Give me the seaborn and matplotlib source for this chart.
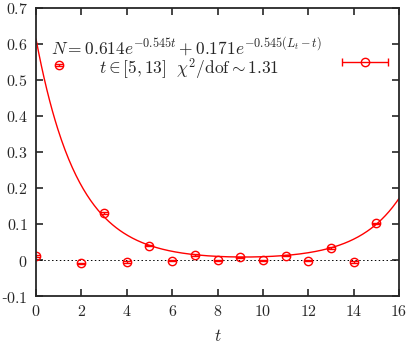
import numpy as np
import pandas as pd
import seaborn as sns
import matplotlib.pyplot as plt

# measured points
t_vals = [0, 1, 2, 3, 4, 5, 6, 7, 8, 9, 10, 11, 12, 13, 14, 15]
n_vals = [0.011, 0.542, -0.009, 0.131, -0.005, 0.040, -0.002, 0.014,
          -0.001, 0.007, -0.001, 0.012, -0.002, 0.033, -0.005, 0.102]
n_err = [0.002] * 16

# fit parameters (as printed on the chart)
amp1, amp2, mass, L_t = 0.614, 0.171, 0.545, 16

x_ticks = [0, 2, 4, 6, 8, 10, 12, 14, 16]
y_ticks = [-0.1, 0, 0.1, 0.2, 0.3, 0.4, 0.5, 0.6, 0.7]


def fmt_tick(v):
    s = f"{v:g}"
    if s.startswith("-"):
        return "-$" + s[1:] + "$"
    return "$" + s + "$"


def main():
    sns.set_style("ticks")
    plt.rcParams["font.family"] = ["DejaVu Serif"]
    plt.rcParams["mathtext.fontset"] = "cm"

    fig = plt.figure(figsize=(4.09, 3.45), dpi=100)
    ax = fig.add_axes([0.088, 0.142, 0.8876, 0.835])

    tt = np.linspace(0, L_t, 400)
    fit = pd.DataFrame({"t": tt,
                        "N": amp1 * np.exp(-mass * tt) + amp2 * np.exp(-mass * (L_t - tt))})
    sns.lineplot(data=fit, x="t", y="N", color="#ff0000", linewidth=1.0, ax=ax)

    ax.axhline(0, color="black", linestyle=(0, (1.5, 2.5)), linewidth=0.7)

    ax.errorbar(t_vals, n_vals, yerr=n_err, fmt="o", mfc="none", mec="#ff0000",
                ecolor="#ff0000", ms=6, mew=1.0, elinewidth=1.0, capsize=3)

    # key sample
    ax.errorbar([14.5], [0.55], xerr=[1.0], fmt="o", mfc="none", mec="#ff0000",
                ecolor="#ff0000", ms=6, mew=1.0, elinewidth=1.0, capsize=3)

    ax.text(6.65, 0.571, r"$N = 0.614e^{-0.545t} + 0.171e^{-0.545(L_t - t)}$",
            ha="center", va="baseline", fontsize=12.5)
    ax.text(6.74, 0.516, r"$t \in [5,13]\ \ \chi^2/\mathrm{dof} \sim 1.31$",
            ha="center", va="baseline", fontsize=12.5)

    ax.set_xlim(0, 16)
    ax.set_ylim(-0.1, 0.7)
    ax.set_xticks(x_ticks)
    ax.set_xticklabels([fmt_tick(v) for v in x_ticks])
    ax.set_yticks(y_ticks)
    ax.set_yticklabels([fmt_tick(v) for v in y_ticks])
    ax.tick_params(direction="in", length=5, width=1.2, top=True, right=True,
                   labelsize=11.5, pad=5)
    ax.tick_params(axis="y", pad=6)
    for s in ax.spines.values():
        s.set_linewidth(1.3)
        s.set_visible(True)
    ax.set_xlabel(r"$t$", fontsize=12.5, labelpad=6)
    ax.set_ylabel("")

    fig.savefig("out.png", dpi=100)


if __name__ == "__main__":
    main()
